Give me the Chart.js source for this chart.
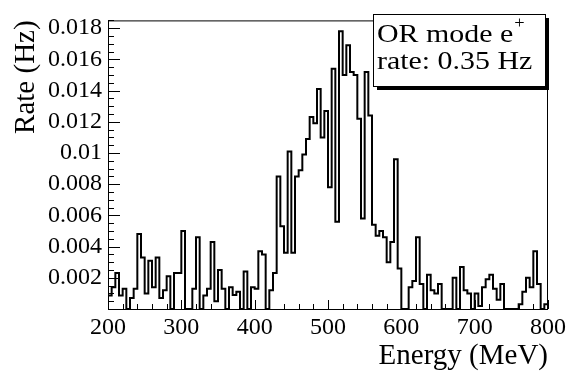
<!DOCTYPE html>
<html>
<head>
<meta charset="utf-8">
<script src="https://cdn.jsdelivr.net/npm/chart.js@4/dist/chart.umd.min.js"></script>
<style>
  body { margin: 0; background: #fff; }
  canvas { display: block; }
</style>
</head>
<body>
<canvas id="rateChart" width="573" height="374"></canvas>
<script>
// energy binning (MeV)
const energyMin = 200;
const energyMax = 800;
const binWidth = 5;

// rate per 5 MeV bin (Hz), 200 -> 800 MeV
const rate = [
  0.00086, 0.0014, 0.0023, 0.00086, 0.0013, 0, 0.0007, 0.0013, 0.0048, 0.0033,
  0.0010, 0.0031, 0.0014, 0.0033, 0.0007, 0.0012, 0.0021, 0, 0.0023, 0.0023,
  0.0050, 0, 0, 0.0013, 0.0046, 0, 0.00086, 0.0013, 0.0043, 0.0005,
  0.0025, 0.0013, 0, 0.0014, 0.0009, 0.0011, 0, 0.0024, 0, 0.0014,
  0.0013, 0.0037, 0.0035, 0, 0.0012, 0.0023, 0.0085, 0.0053, 0.0036, 0.0101,
  0.0036, 0.0085, 0.0089, 0.0099, 0.0109, 0.0123, 0.0119, 0.0141, 0.0110, 0.0127,
  0.0078, 0.0154, 0.0056, 0.0178, 0.0150, 0.0169, 0.0152, 0.0150, 0.0122, 0.0058,
  0.0152, 0.0124, 0.0054, 0.0047, 0.0050, 0.0046, 0.0030, 0.0043, 0.0096, 0.0026,
  0, 0, 0.0014, 0.0018, 0.0046, 0.0016, 0, 0.0022, 0.0012, 0.0010,
  0.0016, 0, 0, 0, 0.0020, 0, 0.0027, 0.0012, 0.0010, 0,
  0.0010, 0.0002, 0.0014, 0.0019, 0.0022, 0.0013, 0.0006, 0.0016, 0, 0,
  0, 0, 0.0003, 0.0011, 0.0020, 0.0014, 0.0037, 0.0016, 0, 0.0003
];

// labelled ticks
const xMajor = [200, 300, 400, 500, 600, 700, 800];
const yMajor = [0.002, 0.004, 0.006, 0.008, 0.01, 0.012, 0.014, 0.016, 0.018];

const legendLines = ["OR mode e", "rate: 0.35 Hz"];

const serif = "'Liberation Serif', 'Times New Roman', serif";

// step outline: one point per bin low edge, plus the closing edge
const points = rate.map((r, i) => ({ x: energyMin + i * binWidth, y: r }));
points.push({ x: energyMax, y: rate[rate.length - 1] });

const isMajor = (list, v) => list.some(m => Math.abs(m - v) < 1e-9);

// ROOT-like frame with inward tick marks
const framePlugin = {
  id: "frame",
  afterDatasetsDraw(chart) {
    const { ctx, chartArea: a, scales: { x, y } } = chart;
    ctx.save();
    ctx.strokeStyle = "#000";
    ctx.lineWidth = 1;
    ctx.strokeRect(a.left + 0.5, a.top + 0.5, a.right - a.left - 1, a.bottom - a.top);
    ctx.beginPath();
    x.ticks.forEach(t => {
      const px = Math.round(x.getPixelForValue(t.value)) + 0.5;
      const len = isMajor(xMajor, t.value) ? 9 : 5;
      ctx.moveTo(px, a.bottom);
      ctx.lineTo(px, a.bottom - len);
    });
    y.ticks.forEach(t => {
      const py = Math.round(y.getPixelForValue(t.value)) + 0.5;
      const len = isMajor(yMajor.concat([0]), t.value) ? 12 : 6;
      ctx.moveTo(a.left, py);
      ctx.lineTo(a.left + len, py);
    });
    ctx.stroke();
    ctx.restore();
  }
};

// wide serif text, drawn stretched horizontally
function wideText(ctx, text, x, y, size, stretch) {
  ctx.save();
  ctx.translate(x, y);
  ctx.scale(stretch, 1);
  ctx.font = size + "px " + serif;
  ctx.fillText(text, 0, 0);
  const w = ctx.measureText(text).width * stretch;
  ctx.restore();
  return w;
}

// text box with shadow in the upper right
const boxPlugin = {
  id: "statBox",
  afterDraw(chart) {
    const { ctx } = chart;
    const bx = 373, by = 14, bw = 172, bh = 72, sh = 4;
    ctx.save();
    ctx.fillStyle = "#000";
    ctx.fillRect(bx + sh, by + sh, bw, bh);
    ctx.fillStyle = "#fff";
    ctx.fillRect(bx, by, bw, bh);
    ctx.strokeStyle = "#000";
    ctx.lineWidth = 1;
    ctx.strokeRect(bx + 0.5, by + 0.5, bw, bh);

    ctx.fillStyle = "#000";
    ctx.textBaseline = "alphabetic";
    ctx.textAlign = "left";
    const w = wideText(ctx, legendLines[0], bx + 4, by + 28, 26, 1.15);
    wideText(ctx, "+", bx + 4 + w + 1, by + 14, 16, 1.15);
    wideText(ctx, legendLines[1], bx + 4, by + 55, 26, 1.15);
    ctx.restore();
  }
};

new Chart(document.getElementById("rateChart"), {
  type: "line",
  data: {
    datasets: [{
      data: points,
      stepped: "before",
      borderColor: "#000",
      borderWidth: 2,
      pointRadius: 0,
      fill: false
    }]
  },
  options: {
    responsive: false,
    animation: false,
    devicePixelRatio: 1,
    layout: { padding: { left: 0, right: 25, top: 7, bottom: 0 } },
    plugins: { legend: { display: false }, tooltip: { enabled: false } },
    scales: {
      x: {
        type: "linear",
        min: energyMin,
        max: energyMax,
        afterFit: s => { s.height = 65; },
        grid: { display: false, drawTicks: false },
        border: { display: false },
        ticks: {
          stepSize: 20,
          autoSkip: false,
          maxRotation: 0,
          padding: 4,
          color: "#000",
          font: { family: serif, size: 24 },
          callback: v => (isMajor(xMajor, v) ? String(v) : "")
        },
        title: {
          display: true,
          text: "Energy (MeV)",
          align: "end",
          color: "#000",
          font: { family: serif, size: 29 },
          padding: { top: 0, bottom: 0 }
        }
      },
      y: {
        min: 0,
        max: 0.0185,
        afterFit: s => { s.width = 108; },
        grid: { display: false, drawTicks: false },
        border: { display: false },
        ticks: {
          stepSize: 0.0005,
          autoSkip: false,
          padding: 6,
          color: "#000",
          font: { family: serif, size: 24 },
          callback: v => (isMajor(yMajor, v) ? String(Number(v.toFixed(3))) : "")
        },
        title: {
          display: true,
          text: "Rate (Hz)",
          align: "end",
          color: "#000",
          font: { family: serif, size: 29 },
          padding: { top: 9, bottom: 0 }
        }
      }
    }
  },
  plugins: [framePlugin, boxPlugin]
});
</script>
</body>
</html>
